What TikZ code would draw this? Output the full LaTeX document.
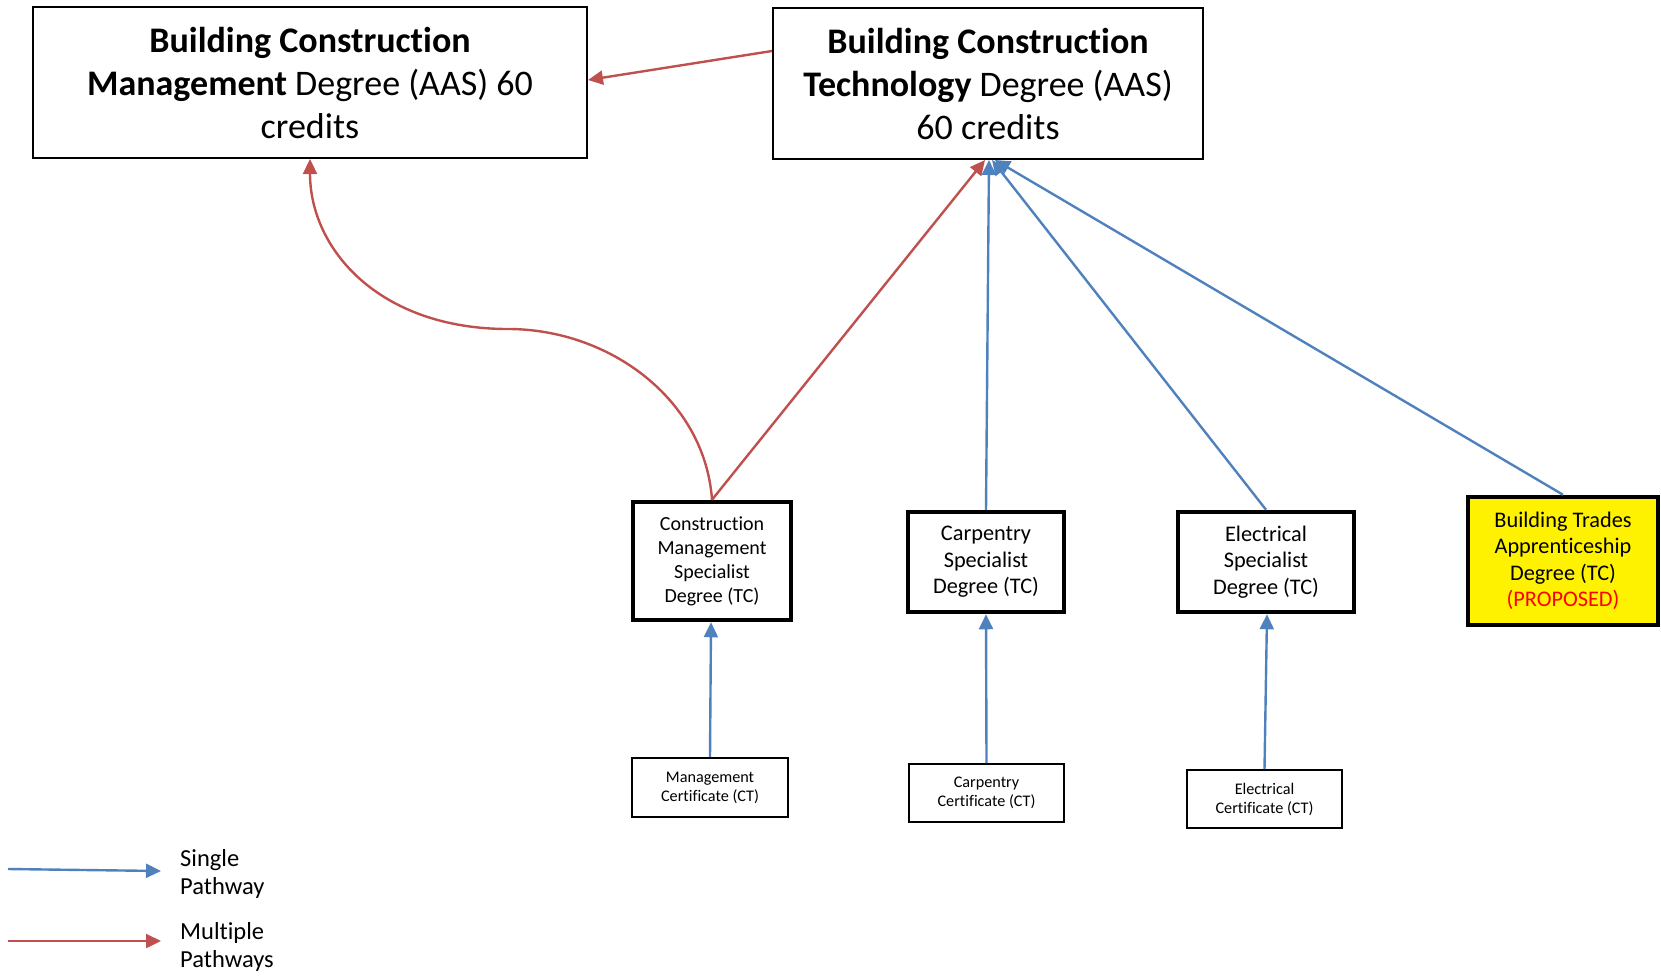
\documentclass[tikz,border=0pt]{standalone}
\usepackage{fontspec}
\setmainfont{Carlito}[Ligatures={NoCommon}]
\usetikzlibrary{arrows.meta}
\definecolor{offred}{HTML}{C0504D}
\definecolor{offblue}{HTML}{4F81BD}
\tikzset{
  bigbox/.style={draw=black, line width=2pt, inner sep=0pt, align=center,
    font=\fontsize{36}{43}\selectfont},
  midbox/.style={draw=black, line width=4.5pt, inner sep=0pt, align=center,
    font=\fontsize{22.3}{26.5}\selectfont},
  certbox/.style={draw=black, line width=2pt, inner sep=0pt, align=center,
    font=\fontsize{16.2}{19}\selectfont},
  single/.style={draw=offblue, line width=2.4pt, -{Triangle[length=15pt,width=14pt]}},
  multi/.style={draw=offred, line width=2.4pt, -{Triangle[length=15pt,width=14pt]}},
  legtext/.style={inner sep=0pt, anchor=west, align=left,
    font=\fontsize{24.5}{28.6}\selectfont}
}
\begin{document}
\begin{tikzpicture}[x=1pt,y=-1pt]
\useasboundingbox (0,0) rectangle (1661,975);
% top boxes
\node[bigbox, minimum width=554pt, minimum height=151pt] (bcm) at (310,82.5)
  {\textbf{Building Construction}\\\textbf{Management} Degree (AAS) 60\\credits};
\node[bigbox, minimum width=430pt, minimum height=151pt] (bct) at (988,83.5)
  {\textbf{Building Construction}\\\textbf{Technology} Degree (AAS)\\60 credits};
% middle boxes
\node[midbox, minimum width=158pt, minimum height=118pt,
  font=\fontsize{20}{24}\selectfont] (cms) at (712,561)
  {Construction\\Management\\Specialist\\Degree (TC)};
\node[midbox, minimum width=156pt, minimum height=100pt] (cs) at (986,562)
  {Carpentry\\Specialist\\Degree (TC)};
\node[midbox, minimum width=176pt, minimum height=100pt] (es) at (1266,562)
  {Electrical\\Specialist\\Degree (TC)};
\node[midbox, fill=yellow, minimum width=190pt, minimum height=128pt] (bta) at (1563,561)
  {Building Trades\\Apprenticeship\\Degree (TC)\\\textcolor{red}{(PROPOSED)}};
% certificate boxes
\node[certbox, minimum width=156pt, minimum height=59pt] (mc) at (710,787.5)
  {Management\\Certificate (CT)};
\node[certbox, minimum width=155pt, minimum height=58pt] (cc) at (986.5,793)
  {Carpentry\\Certificate (CT)};
\node[certbox, minimum width=155pt, minimum height=58pt] (ec) at (1264.5,799)
  {Electrical\\Certificate (CT)};
% connectors
\draw[multi] (bct.west |- 0,51) -- (bcm.east |- 0,80);
\draw[multi] (cms.north) .. controls (705,400) and (610,329) .. (508,329)
  .. controls (380,329) and (310,250) .. (bcm.south);
\draw[multi] (cms.north) -- ([xshift=-3pt]bct.south);
\draw[single] (cs.north) -- ([xshift=1pt]bct.south);
\draw[single] (es.north) -- ([xshift=4pt]bct.south);
\draw[single] (bta.north) -- ([xshift=7pt]bct.south);
\draw[single] (mc.north) -- ([xshift=-1pt]cms.south);
\draw[single] (cc.north) -- (cs.south);
\draw[single] (ec.north) -- ([xshift=1pt]es.south);
% legend
\coordinate (l1a) at (8,869);
\coordinate (l1b) at (161,871);
\coordinate (l2a) at (8,941);
\coordinate (l2b) at (161,941);
\draw[single] (l1a) -- (l1b);
\draw[multi] (l2a) -- (l2b);
\node[legtext] (lt1) at (180,874) {Single\\Pathway};
\node[legtext] (lt2) at (180,947) {Multiple\\Pathways};
\end{tikzpicture}
\end{document}
